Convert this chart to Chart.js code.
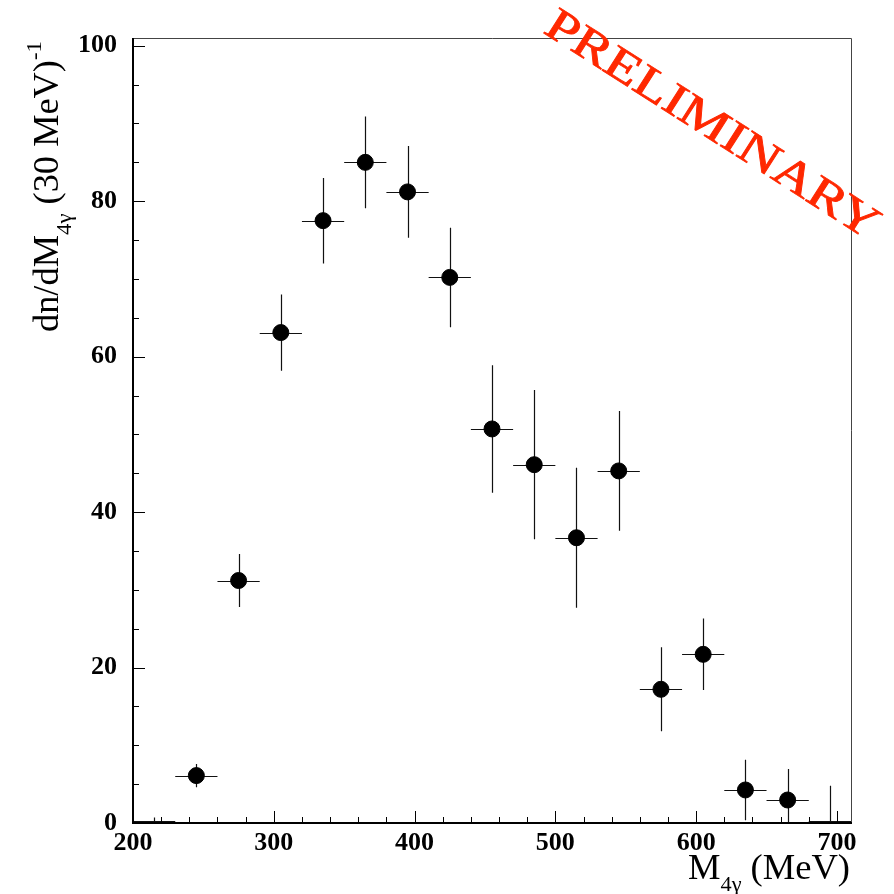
<!DOCTYPE html>
<html>
<head>
<meta charset="utf-8">
<script src="https://cdn.jsdelivr.net/npm/chart.js@4.4.1/dist/chart.umd.min.js"></script>
<style>
  html, body { margin: 0; padding: 0; background: #fff; }
  canvas { display: block; }
</style>
</head>
<body>
<canvas id="grafica" width="894" height="894"></canvas>
<script>
// bins of 30 MeV, centre of each bin
const binCenters = [215, 245, 275, 305, 335, 365, 395, 425, 455, 485, 515, 545, 575, 605, 635, 665, 695];
const counts     = [0.3, 6.1, 31.2, 63.1, 77.5, 85.0, 81.2, 70.2, 50.7, 46.1, 36.7, 45.3, 17.2, 21.7, 4.25, 2.96, 0.3];
const errors     = [0.4, 1.5, 3.4, 4.9, 5.5, 5.9, 5.9, 6.4, 8.2, 9.6, 9.0, 7.7, 5.4, 4.6, 3.9, 4.0, 4.5];
const binHalfWidth = 15;
const xTicks = [200, 300, 400, 500, 600, 700];
const yTicks = [0, 20, 40, 60, 80, 100];

const serif = "'Liberation Serif', 'Times New Roman', serif";

const canvas = document.getElementById('grafica');
const ctx = canvas.getContext('2d');

// error bars drawn under the markers
const errorBars = {
  id: 'errorBars',
  beforeDatasetsDraw(chart) {
    const { ctx, chartArea: a, scales: { x, y } } = chart;
    ctx.save();
    ctx.beginPath();
    ctx.rect(a.left, a.top, a.right - a.left, a.bottom - a.top - 1);
    ctx.clip();
    ctx.strokeStyle = '#111';
    ctx.lineWidth = 1.2;
    binCenters.forEach((c, i) => {
      const px = Math.round(x.getPixelForValue(c)) + 0.5;
      const py = Math.round(y.getPixelForValue(counts[i])) + 0.5;
      ctx.beginPath();
      ctx.moveTo(x.getPixelForValue(c - binHalfWidth), py);
      ctx.lineTo(x.getPixelForValue(c + binHalfWidth), py);
      ctx.moveTo(px, y.getPixelForValue(counts[i] + errors[i]));
      ctx.lineTo(px, y.getPixelForValue(Math.max(0, counts[i] - errors[i])));
      ctx.stroke();
    });
    ctx.restore();
  }
};

// ROOT style frame with ticks pointing inside
const frameTicks = {
  id: 'frameTicks',
  afterDatasetsDraw(chart) {
    const { ctx, chartArea: a, scales: { x, y } } = chart;
    ctx.save();
    ctx.strokeStyle = '#000';
    ctx.lineWidth = 1;
    ctx.beginPath();
    for (let v = x.min; v <= x.max; v += 20) {
      const px = Math.round(x.getPixelForValue(v)) + 0.5;
      const len = v % 100 === 0 ? 12 : 6;
      ctx.moveTo(px, a.bottom);
      ctx.lineTo(px, a.bottom - len);
    }
    for (let v = y.min; v <= 100; v += 5) {
      const py = Math.round(y.getPixelForValue(v)) + 0.5;
      const len = v % 20 === 0 ? 12 : 6;
      ctx.moveTo(a.left, py);
      ctx.lineTo(a.left + len, py);
    }
    ctx.stroke();

    ctx.strokeStyle = '#444';
    ctx.beginPath();
    ctx.moveTo(a.left, a.top + 0.5);
    ctx.lineTo(a.right + 0.5, a.top + 0.5);
    ctx.lineTo(a.right + 0.5, a.bottom);
    ctx.stroke();

    ctx.strokeStyle = '#000';
    ctx.lineWidth = 2;
    ctx.beginPath();
    ctx.moveTo(a.left, a.top);
    ctx.lineTo(a.left, a.bottom);
    ctx.lineTo(a.right + 1, a.bottom);
    ctx.stroke();
    ctx.restore();
  }
};

const drawRich = (ctx, parts, width) => {
  let total = 0;
  parts.forEach(p => {
    ctx.font = p.size + 'px ' + serif;
    p.w = ctx.measureText(p.t).width;
    total += p.w;
  });
  ctx.scale(width / total, 1);
  let cx = 0;
  parts.forEach(p => {
    ctx.font = p.size + 'px ' + serif;
    ctx.fillText(p.t, cx, p.dy);
    cx += p.w;
  });
};

const titles = {
  id: 'titles',
  afterDraw(chart) {
    const { ctx } = chart;
    ctx.save();
    ctx.fillStyle = '#000';
    ctx.textBaseline = 'alphabetic';
    ctx.textAlign = 'left';

    // y axis title
    ctx.save();
    ctx.translate(58, 332);
    ctx.rotate(-Math.PI / 2);
    drawRich(ctx, [
      { t: 'dn/dM', size: 35, dy: 0 },
      { t: '4γ', size: 22, dy: 13 },
      { t: ' (30 MeV)', size: 35, dy: 0 },
      { t: '-1', size: 22, dy: -17 }
    ], 291);
    ctx.restore();

    // x axis title
    ctx.save();
    ctx.translate(688, 879);
    drawRich(ctx, [
      { t: 'M', size: 36, dy: 0 },
      { t: '4γ', size: 22, dy: 12 },
      { t: ' (MeV)', size: 36, dy: 0 }
    ], 162);
    ctx.restore();

    // preliminary stamp
    ctx.save();
    ctx.translate(542, 32);
    ctx.rotate(32.6 * Math.PI / 180);
    ctx.fillStyle = 'rgb(255, 40, 0)';
    ctx.font = "46px " + serif;
    const w = ctx.measureText('PRELIMINARY').width;
    ctx.scale(387 / w, 1);
    ctx.fillText('PRELIMINARY', 0, 0);
    ctx.strokeStyle = 'rgb(255, 40, 0)';
    ctx.lineWidth = 0.8;
    ctx.strokeText('PRELIMINARY', 0, 0);
    ctx.restore();

    ctx.restore();
  }
};

const chartData = {
  datasets: [{
    label: 'dn/dM',
    data: binCenters.map((c, i) => ({ x: c, y: counts[i] })),
    backgroundColor: '#000',
    borderColor: '#000',
    pointRadius: counts.map(v => (v < 1 ? 0 : 8)),
    pointHoverRadius: 8,
    showLine: false
  }]
};

const chartM4g = new Chart(ctx, {
  type: 'scatter',
  data: chartData,
  options: {
    responsive: false,
    animation: false,
    devicePixelRatio: 1,
    layout: { padding: { top: 38, right: 43, left: 0, bottom: 0 } },
    plugins: { legend: { display: false }, tooltip: { enabled: false } },
    scales: {
      x: {
        type: 'linear',
        min: 200,
        max: 710,
        grid: { display: false, drawTicks: false },
        border: { display: false },
        afterBuildTicks: s => { s.ticks = xTicks.map(v => ({ value: v })); },
        afterFit: s => { s.height = 71; },
        ticks: {
          padding: 5,
          color: '#000',
          font: { family: serif, size: 26, weight: 'bold' }
        }
      },
      y: {
        min: 0,
        max: 101,
        grid: { display: false, drawTicks: false },
        border: { display: false },
        afterBuildTicks: s => { s.ticks = yTicks.map(v => ({ value: v })); },
        afterFit: s => { s.width = 133; },
        ticks: {
          padding: 16,
          color: '#000',
          font: { family: serif, size: 26, weight: 'bold' }
        }
      }
    }
  },
  plugins: [errorBars, frameTicks, titles]
});
</script>
</body>
</html>
